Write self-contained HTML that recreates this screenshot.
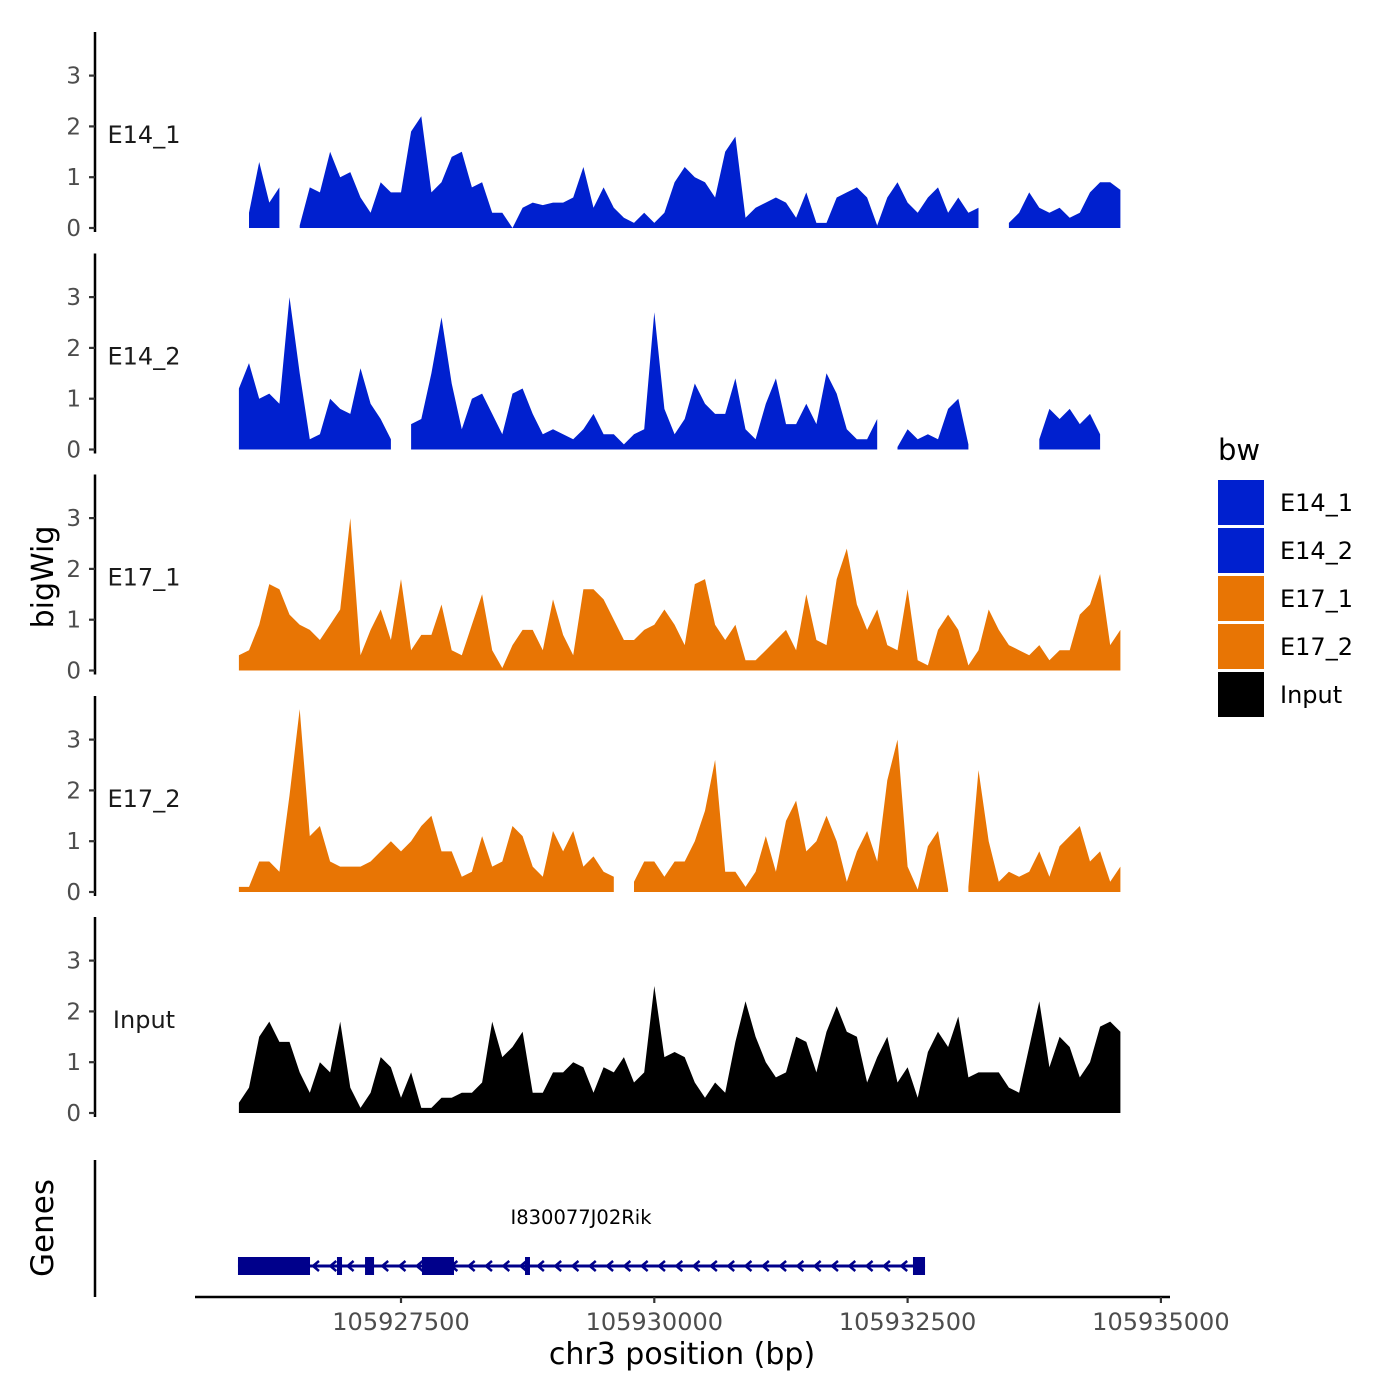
<!DOCTYPE html>
<html><head><meta charset="utf-8"><style>
html,body{margin:0;padding:0;background:#fff;}
svg{display:block;font-family:"DejaVu Sans","Liberation Sans",sans-serif;}
</style></head><body>
<svg id="chart" width="1400" height="1400" viewBox="0 0 1400 1400"></svg>
<script>
const trackNames = ["E14_1","E14_2","E17_1","E17_2","Input"];
const trackColors = ["#0020CF","#0020CF","#E87504","#E87504","#000000"];
const yTicks = [0,1,2,3];
const xTicks = [105927500,105930000,105932500,105935000];
const startBp = 105925900, stepBp = 100;
const E14_1 = [null,0.3,1.3,0.5,0.8,null,0.05,0.8,0.7,1.5,1.0,1.1,0.6,0.3,0.9,0.7,0.7,1.9,2.2,0.7,0.9,1.4,1.5,0.8,0.9,0.3,0.3,0,0.4,0.5,0.45,0.5,0.5,0.6,1.2,0.4,0.8,0.4,0.2,0.1,0.3,0.1,0.3,0.9,1.2,1.0,0.9,0.6,1.5,1.8,0.2,0.4,0.5,0.6,0.5,0.2,0.7,0.1,0.1,0.6,0.7,0.8,0.6,0.05,0.6,0.9,0.5,0.3,0.6,0.8,0.3,0.6,0.3,0.4,null,null,0.1,0.3,0.7,0.4,0.3,0.4,0.2,0.3,0.7,0.9,0.9,0.75];
const E14_2 = [1.2,1.7,1.0,1.1,0.9,3.0,1.5,0.2,0.3,1.0,0.8,0.7,1.6,0.9,0.6,0.2,null,0.5,0.6,1.5,2.6,1.3,0.4,1.0,1.1,0.7,0.3,1.1,1.2,0.7,0.3,0.4,0.3,0.2,0.4,0.7,0.3,0.3,0.1,0.3,0.4,2.7,0.8,0.3,0.6,1.3,0.9,0.7,0.7,1.4,0.4,0.2,0.9,1.4,0.5,0.5,0.9,0.5,1.5,1.1,0.4,0.2,0.2,0.6,null,0.05,0.4,0.2,0.3,0.2,0.8,1.0,0.1,null,null,null,null,null,null,0.2,0.8,0.6,0.8,0.5,0.7,0.3,null,null];
const E17_1 = [0.3,0.4,0.9,1.7,1.6,1.1,0.9,0.8,0.6,0.9,1.2,3.0,0.3,0.8,1.2,0.6,1.8,0.4,0.7,0.7,1.3,0.4,0.3,0.9,1.5,0.4,0.05,0.5,0.8,0.8,0.4,1.4,0.7,0.3,1.6,1.6,1.4,1.0,0.6,0.6,0.8,0.9,1.2,0.9,0.5,1.7,1.8,0.9,0.6,0.9,0.2,0.2,0.4,0.6,0.8,0.4,1.5,0.6,0.5,1.8,2.4,1.3,0.8,1.2,0.5,0.4,1.6,0.2,0.1,0.8,1.1,0.8,0.1,0.4,1.2,0.8,0.5,0.4,0.3,0.5,0.2,0.4,0.4,1.1,1.3,1.9,0.5,0.8];
const E17_2 = [0.1,0.1,0.6,0.6,0.4,1.9,3.6,1.1,1.3,0.6,0.5,0.5,0.5,0.6,0.8,1.0,0.8,1.0,1.3,1.5,0.8,0.8,0.3,0.4,1.1,0.5,0.6,1.3,1.1,0.5,0.3,1.2,0.8,1.2,0.5,0.7,0.4,0.3,null,0.2,0.6,0.6,0.3,0.6,0.6,1.0,1.6,2.6,0.4,0.4,0.1,0.4,1.1,0.4,1.4,1.8,0.8,1.0,1.5,1.0,0.2,0.8,1.2,0.6,2.2,3.0,0.5,0.05,0.9,1.2,0.05,null,0.1,2.4,1.0,0.2,0.4,0.3,0.4,0.8,0.3,0.9,1.1,1.3,0.6,0.8,0.2,0.5];
const Input = [0.2,0.5,1.5,1.8,1.4,1.4,0.8,0.4,1.0,0.8,1.8,0.5,0.1,0.4,1.1,0.9,0.3,0.8,0.1,0.1,0.3,0.3,0.4,0.4,0.6,1.8,1.1,1.3,1.6,0.4,0.4,0.8,0.8,1.0,0.9,0.4,0.9,0.8,1.1,0.6,0.8,2.5,1.1,1.2,1.1,0.6,0.3,0.6,0.4,1.4,2.2,1.5,1.0,0.7,0.8,1.5,1.4,0.8,1.6,2.1,1.6,1.5,0.6,1.1,1.5,0.6,0.9,0.3,1.2,1.6,1.3,1.9,0.7,0.8,0.8,0.8,0.5,0.4,1.3,2.2,0.9,1.5,1.3,0.7,1.0,1.7,1.8,1.6];
const trackValues = [E14_1,E14_2,E17_1,E17_2,Input];
const geneName = "I830077J02Rik";
const geneStart = 105925891, geneEnd = 105932672;
const exonStarts = [105925891,105926868,105927145,105927707,105928724,105932553];
const exonEnds   = [105926602,105926918,105927234,105928023,105928773,105932672];

const NS="http://www.w3.org/2000/svg";
const svg=document.getElementById('chart');
function mk(tag,attrs,parent){const e=document.createElementNS(NS,tag);for(const k in attrs)e.setAttribute(k,attrs[k]);(parent||svg).appendChild(e);return e;}
const xS = bp => 401 + (bp-105927500)*(253.3/2500);
const baseY = [228,449.5,670.5,892,1113];
const unit = 50.8;

trackNames.forEach((name,t)=>{
  const g=mk('g',{});
  
  
  const b=baseY[t];
  const yS=v=>b-v*unit;
  const vals=trackValues[t];
  let seg=[];
  const flush=()=>{ if(seg.length>1){
      let d='M'+seg[0][0].toFixed(1)+','+b;
      seg.forEach(p=>d+='L'+p[0].toFixed(1)+','+yS(p[1]).toFixed(1));
      d+='L'+seg[seg.length-1][0].toFixed(1)+','+b+'Z';
      const p=mk('path',{d:d,fill:trackColors[t]},g);
      
      
    } seg=[]; };
  vals.forEach((v,i)=>{ if(v===null){flush();} else seg.push([xS(startBp+i*stepBp),v]); });
  flush();
  const ax=mk('line',{x1:95,x2:95,y1:b-196,y2:b+4,stroke:'#000','stroke-width':2.5},g);
  
  
  yTicks.forEach(v=>{
    mk('line',{x1:89,x2:95,y1:yS(v),y2:yS(v),stroke:'#333','stroke-width':2.2},g);
    const tx=mk('text',{x:81,y:yS(v)+8,'text-anchor':'end','font-size':23,fill:'#4d4d4d'},g);
    tx.textContent=v;
    
    
  });
  const lab=mk('text',{x:144,y:b-85,'text-anchor':'middle','font-size':24,fill:'#1a1a1a'},g);
  lab.textContent=name;
  
  
});

const gg=mk('g',{});


mk('line',{x1:95,x2:95,y1:1160,y2:1297,stroke:'#000','stroke-width':2.5},gg);
const gy=1266, c='#00008B';
mk('line',{x1:xS(geneStart),x2:xS(geneEnd),y1:gy,y2:gy,stroke:c,'stroke-width':3},gg);
for(let x=xS(geneStart)+77;x<xS(geneEnd)-10;x+=17.3){
  mk('path',{d:`M${x+4},${gy-5}L${x-2},${gy}L${x+4},${gy+5}`,fill:'none',stroke:c,'stroke-width':2.5},gg);
}
exonStarts.forEach((s,i)=>{
  const r=mk('rect',{x:xS(s),y:gy-9,width:Math.max(4,xS(exonEnds[i])-xS(s)),height:18,fill:c},gg);
  
  
});
const gl=mk('text',{x:581,y:1224,'text-anchor':'middle','font-size':19.5,fill:'#000'},gg);
gl.textContent=geneName;



const xg=mk('g',{});


mk('line',{x1:195,x2:1170,y1:1297,y2:1297,stroke:'#000','stroke-width':2.5},xg);
xTicks.forEach(v=>{
  mk('line',{x1:xS(v),x2:xS(v),y1:1297,y2:1303,stroke:'#333','stroke-width':2.2},xg);
  const t=mk('text',{x:xS(v),y:1330,'text-anchor':'middle','font-size':24,fill:'#4d4d4d'},xg);
  t.textContent=v;
  
  
});
</script>
<svg style="position:absolute;left:0;top:0" width="1400" height="1400">
  <text x="682" y="1364" text-anchor="middle" font-size="30" fill="#000">chr3 position (bp)</text>
  <text transform="translate(53,577) rotate(-90)" text-anchor="middle" font-size="30" fill="#000">bigWig</text>
  <text transform="translate(53,1228) rotate(-90)" text-anchor="middle" font-size="31" fill="#000">Genes</text>
  <g>
    <text x="1218" y="460" font-size="29" fill="#000">bw</text>
    <rect x="1218" y="480" width="46" height="45" fill="#0020CF"/>
    <rect x="1218" y="528" width="46" height="45" fill="#0020CF"/>
    <rect x="1218" y="576" width="46" height="45" fill="#E87504"/>
    <rect x="1218" y="624" width="46" height="45" fill="#E87504"/>
    <rect x="1218" y="672" width="46" height="45" fill="#000"/>
    <text x="1280" y="511" font-size="24">E14_1</text>
    <text x="1280" y="559" font-size="24">E14_2</text>
    <text x="1280" y="607" font-size="24">E17_1</text>
    <text x="1280" y="655" font-size="24">E17_2</text>
    <text x="1280" y="703" font-size="24">Input</text>
  </g>
</svg>
</body></html>
